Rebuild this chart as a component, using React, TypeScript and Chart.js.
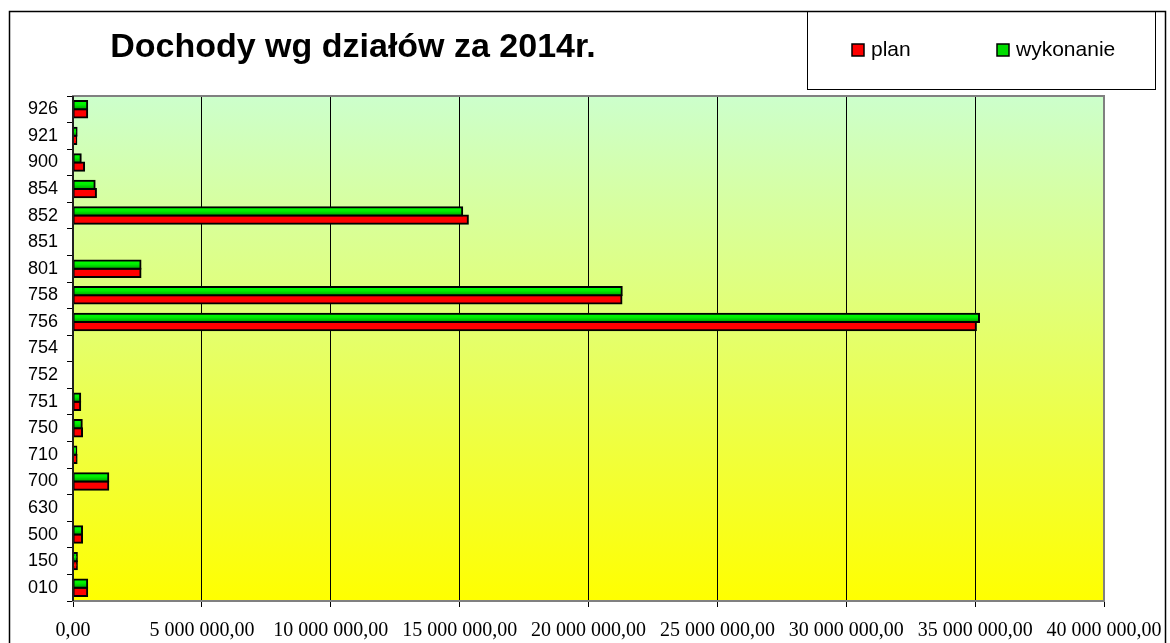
import React, { useEffect, useRef } from "react";
import { Chart, registerables } from "chart.js";

Chart.register(...registerables);

const TITLE = "Dochody wg działów za 2014r.";
const categories = ["926", "921", "900", "854", "852", "851", "801", "758", "756", "754", "752", "751", "750", "710", "700", "630", "500", "150", "010"];
const planValues = [550000, 130000, 430000, 890000, 15320000, 0, 2620000, 21280000, 35030000, 0, 0, 280000, 350000, 140000, 1370000, 0, 350000, 150000, 550000];
const wykonanieValues = [550000, 140000, 300000, 840000, 15100000, 0, 2620000, 21290000, 35150000, 0, 0, 280000, 340000, 130000, 1370000, 0, 350000, 150000, 550000];
const seriesNames = ["plan", "wykonanie"];
const xMin = 0;
const xMax = 40000000;
const xStep = 5000000;

function fmt(v: number): string {
  const s = Math.round(v).toString().replace(/\B(?=(\d{3})+(?!\d))/g, " ");
  return s + ",00";
}

const CAT_PCT = 0.62;

function greenFill(c: any) {
  const chart = c.chart;
  const ys = chart.scales && chart.scales.y;
  if (!ys || !chart.chartArea) return "#00cc00";
  const yc = ys.getPixelForValue(c.dataIndex);
  const band = (chart.chartArea.bottom - chart.chartArea.top) / categories.length;
  const h = (band * CAT_PCT) / 2;
  const g = chart.ctx.createLinearGradient(0, yc - h, 0, yc);
  g.addColorStop(0, "#00ff00");
  g.addColorStop(0.45, "#00ee00");
  g.addColorStop(1, "#00a000");
  return g;
}

const decorPlugin = {
  id: "decor",
  beforeDraw(chart: any) {
    const { ctx, chartArea } = chart;
    ctx.save();
    const g = ctx.createLinearGradient(0, chartArea.top, 0, chartArea.bottom);
    g.addColorStop(0, "#ccffcc");
    g.addColorStop(1, "#ffff00");
    ctx.fillStyle = g;
    ctx.fillRect(chartArea.left, chartArea.top, chartArea.right - chartArea.left, chartArea.bottom - chartArea.top);
    ctx.restore();
  },
  afterDraw(chart: any) {
    const { ctx, chartArea } = chart;
    ctx.save();
    // plot area border
    ctx.strokeStyle = "#808080";
    ctx.lineWidth = 2;
    ctx.strokeRect(chartArea.left, chartArea.top, chartArea.right - chartArea.left, chartArea.bottom - chartArea.top);
    ctx.strokeStyle = "#000";
    ctx.lineWidth = 1.5;
    ctx.beginPath();
    ctx.moveTo(chartArea.left, chartArea.top);
    ctx.lineTo(chartArea.left, chartArea.bottom);
    ctx.stroke();
    // outer frame
    ctx.strokeStyle = "#000";
    ctx.lineWidth = 1.5;
    ctx.strokeRect(9.5, 11.5, 1156, 700);
    // legend box
    ctx.lineWidth = 1;
    ctx.strokeRect(807.5, 11.5, 348, 78);
    // title
    ctx.fillStyle = "#000";
    ctx.font = "bold 34px 'Liberation Sans', Arial, sans-serif";
    ctx.textAlign = "center";
    ctx.textBaseline = "alphabetic";
    ctx.fillText(TITLE, 353, 57);
    // legend entries
    ctx.font = "21px 'Liberation Sans', Arial, sans-serif";
    ctx.textAlign = "left";
    ctx.textBaseline = "middle";
    const items = [
      { x: 852, color: "#ff0000", label: seriesNames[0] },
      { x: 997, color: "#00dd00", label: seriesNames[1] },
    ];
    for (const it of items) {
      ctx.fillStyle = it.color;
      ctx.fillRect(it.x, 44, 12, 12);
      ctx.strokeStyle = "#000";
      ctx.lineWidth = 1.5;
      ctx.strokeRect(it.x, 44, 12, 12);
      ctx.fillStyle = "#000";
      ctx.fillText(it.label, it.x + 19, 50);
    }
    ctx.restore();
  },
};

export default function App() {
  const ref = useRef<HTMLCanvasElement | null>(null);
  useEffect(() => {
    document.body.style.margin = "0";
    const canvas = ref.current;
    if (!canvas) return;
    const chart = new Chart(canvas, {
      type: "bar",
      data: {
        labels: categories,
        datasets: [
          {
            label: seriesNames[1],
            data: wykonanieValues,
            backgroundColor: greenFill as any,
            borderColor: "#000",
            borderWidth: 2,
            borderSkipped: false,
            inflateAmount: 1,
          },
          {
            label: seriesNames[0],
            data: planValues,
            backgroundColor: "#ff0000",
            borderColor: "#000",
            borderWidth: 2,
            borderSkipped: false,
            inflateAmount: 1,
          },
        ],
      },
      options: {
        indexAxis: "y",
        responsive: false,
        animation: false,
        devicePixelRatio: 1,
        layout: { padding: { left: 0, top: 96, right: 66, bottom: 0 } },
        datasets: { bar: { categoryPercentage: CAT_PCT, barPercentage: 1 } },
        plugins: {
          legend: { display: false },
          title: { display: false },
          tooltip: { enabled: false },
        },
        scales: {
          x: {
            type: "linear",
            min: xMin,
            max: xMax,
            afterFit: (s: any) => {
              s.height = 42;
              s.paddingLeft = 0;
              s.paddingRight = 0;
            },
            ticks: {
              stepSize: xStep,
              color: "#000",
              padding: 12,
              maxRotation: 0,
              autoSkip: false,
              font: { family: "'Liberation Serif', 'Times New Roman', serif", size: 20 },
              callback: (v: any) => fmt(Number(v)),
            },
            grid: { color: "#000", lineWidth: 1, drawTicks: true, tickLength: 6, tickColor: "#000" },
            border: { display: true, color: "#808080", width: 2 },
          },
          y: {
            type: "category",
            afterFit: (s: any) => {
              s.width = 73;
              s.paddingTop = 0;
              s.paddingBottom = 0;
            },
            ticks: {
              color: "#000",
              padding: 9,
              autoSkip: false,
              font: { family: "'Liberation Sans', Arial, sans-serif", size: 18 },
            },
            grid: { offset: true, drawOnChartArea: false, drawTicks: true, tickLength: 6, color: "#000" },
            border: { display: true, color: "#000", width: 1.5 },
          },
        },
      },
      plugins: [decorPlugin],
    });
    return () => chart.destroy();
  }, []);
  return <canvas ref={ref} width={1170} height={643} style={{ display: "block", width: 1170, height: 643 }} />;
}
